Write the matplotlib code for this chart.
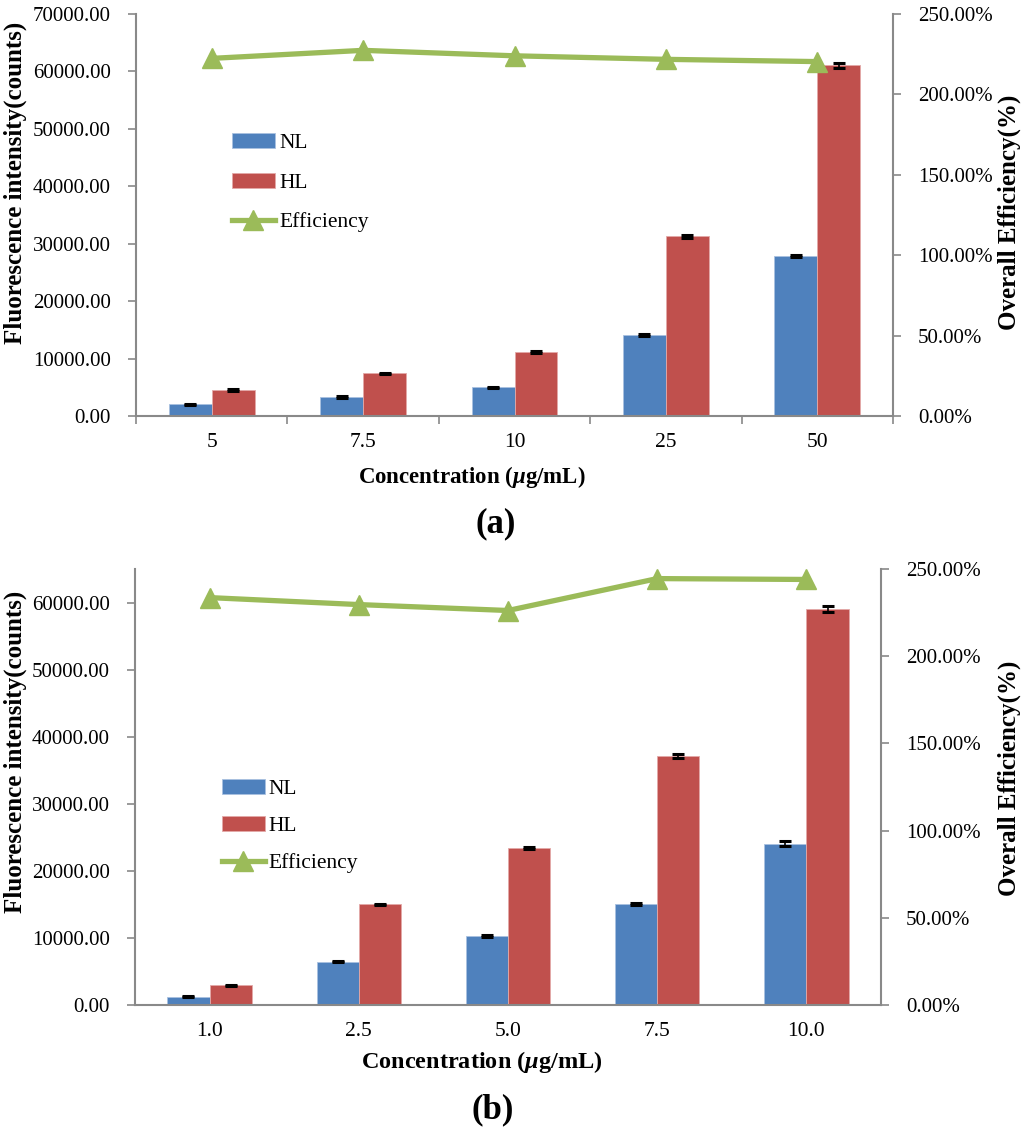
import numpy as np
import matplotlib
matplotlib.use("Agg")
import matplotlib.pyplot as plt
from matplotlib.ticker import FuncFormatter, MultipleLocator

plt.rcParams['font.family'] = ['Liberation Serif', 'DejaVu Serif']
plt.rcParams['mathtext.fontset'] = 'custom'
plt.rcParams['mathtext.rm'] = 'Liberation Serif:bold'
plt.rcParams['mathtext.it'] = 'Liberation Serif:bold:italic'
plt.rcParams['mathtext.bf'] = 'Liberation Serif:bold'

# ---- data panel (a)
cats_a = ["5", "7.5", "10", "25", "50"]
nl_a = [2030, 3300, 4990, 14100, 27800]
hl_a = [4530, 7430, 11140, 31280, 61060]
nl_err_a = [120, 120, 120, 150, 200]
hl_err_a = [120, 120, 150, 200, 400]
eff_a = [222.4, 227.4, 224.0, 221.8, 220.4]

# ---- data panel (b)
cats_b = ["1.0", "2.5", "5.0", "7.5", "10.0"]
nl_b = [1240, 6460, 10280, 15100, 24040]
hl_b = [2930, 15000, 23350, 37160, 59070]
nl_err_b = [100, 100, 120, 150, 350]
hl_err_b = [100, 120, 150, 300, 450]
eff_b = [233.6, 229.6, 226.2, 244.5, 244.0]

BLUE = "#4F81BD"
RED = "#C0504D"
GREEN = "#9BBB59"
GRAY = "#898989"

W, H = 1024, 1135
fig = plt.figure(figsize=(10.24, 11.35), dpi=100)


def panel(rect, cats, nl, hl, nle, hle, eff, ymax, yticks, xticks_marks,
          legend_pos, legend_spacing, letter, letter_xy, xlabel_xy, xlabel_size,
          ylab_y, y2lab_y):
    ax = fig.add_axes(rect)
    x = np.arange(len(cats))
    w = 0.283
    ax.bar(x - w / 2, nl, w, color=BLUE, edgecolor="#A9C1E0", linewidth=0.6, label="NL", zorder=2)
    ax.bar(x + w / 2, hl, w, color=RED, edgecolor="#E3A9A8", linewidth=0.6, label="HL", zorder=2)
    ax.errorbar(x - w / 2, nl, yerr=nle, fmt="none", ecolor="black", elinewidth=1.2, capsize=4, capthick=2.2, zorder=3)
    ax.errorbar(x + w / 2, hl, yerr=hle, fmt="none", ecolor="black", elinewidth=1.2, capsize=4, capthick=2.2, zorder=3)
    ax.set_xlim(-0.5, len(cats) - 0.5)
    ax.set_ylim(0, ymax)
    ax.set_yticks(yticks)
    ax.yaxis.set_major_formatter(FuncFormatter(lambda v, p: f"{v:.2f}"))
    ax.set_xticks(x)
    ax.set_xticklabels(cats)
    ax.tick_params(axis="x", length=0, pad=12, labelsize=15.5)
    if xticks_marks:
        ax.set_xticks(np.arange(len(cats) + 1) - 0.5, minor=True)
        ax.tick_params(axis="x", which="minor", length=6, color=GRAY, width=1.2)
    ax.tick_params(axis="y", length=6, color=GRAY, width=1.2, pad=12, labelsize=15)
    for s in ["top", "right"]:
        ax.spines[s].set_visible(False)
    for s in ["left", "bottom"]:
        ax.spines[s].set_color(GRAY)
        ax.spines[s].set_linewidth(1.5)
    ax.set_ylabel("Fluorescence intensity(counts)", fontsize=18, fontweight="bold")
    # label's right edge at ~27 px from figure left
    ax.yaxis.set_label_coords(-(rect[0] * W - 27) / (rect[2] * W), ylab_y)

    ax2 = ax.twinx()
    ax2.plot(x, eff, color=GREEN, linewidth=3.8, marker="^", markersize=14, label="Efficiency", zorder=4)
    ax2.set_ylim(0, 250)
    ax2.yaxis.set_major_locator(MultipleLocator(50))
    ax2.yaxis.set_major_formatter(FuncFormatter(lambda v, p: f"{v:.2f}%"))
    ax2.tick_params(axis="y", length=6, color=GRAY, width=1.2, pad=12, labelsize=15)
    for s in ["top", "left", "bottom"]:
        ax2.spines[s].set_visible(False)
    ax2.spines["right"].set_color(GRAY)
    ax2.spines["right"].set_linewidth(1.5)
    ax2.set_ylabel("Overall Efficiency(%)", fontsize=18, fontweight="bold")
    right_px = (rect[0] + rect[2]) * W
    # label's left edge at ~998 px
    ax2.yaxis.set_label_coords(1 + (998 - right_px) / (rect[2] * W), y2lab_y)

    h1, l1 = ax.get_legend_handles_labels()
    h2, l2 = ax2.get_legend_handles_labels()
    ax.legend(h1 + h2, l1 + l2, loc="upper left", bbox_to_anchor=legend_pos, frameon=False,
              fontsize=15.5, labelspacing=legend_spacing, handlelength=2.0, handletextpad=0.2,
              borderaxespad=0)

    fig.text(xlabel_xy[0] / W, 1 - xlabel_xy[1] / H, r"Concentration ($\mu$g/mL)", fontsize=xlabel_size,
             fontweight="bold", ha="center", va="center")
    fig.text(letter_xy[0] / W, 1 - letter_xy[1] / H, "(" + letter + ")", fontsize=25,
             fontweight="bold", ha="center", va="center")
    return ax, ax2


# panel a: left 136, right 893, top 14, bottom 416
panel([136 / W, 1 - 416 / H, (893 - 136) / W, (416 - 14) / H], cats_a, nl_a, hl_a, nl_err_a, hl_err_a,
      eff_a, 70000, np.arange(0, 70001, 10000), True, (0.115, 0.725), 0.9,
      "a", (496, 524), (472, 477), 16.5, 0.58, 0.507)
# panel b: left 135, right 881, top 569, bottom 1005
panel([135 / W, 1 - 1005 / H, (881 - 135) / W, (1005 - 569) / H], cats_b, nl_b, hl_b, nl_err_b, hl_err_b,
      eff_b, 65000, np.arange(0, 60001, 10000), False, (0.1045, 0.539), 0.8,
      "b", (493, 1110), (482, 1062), 17.5, 0.58, 0.52)

fig.savefig("out.png", dpi=100)
